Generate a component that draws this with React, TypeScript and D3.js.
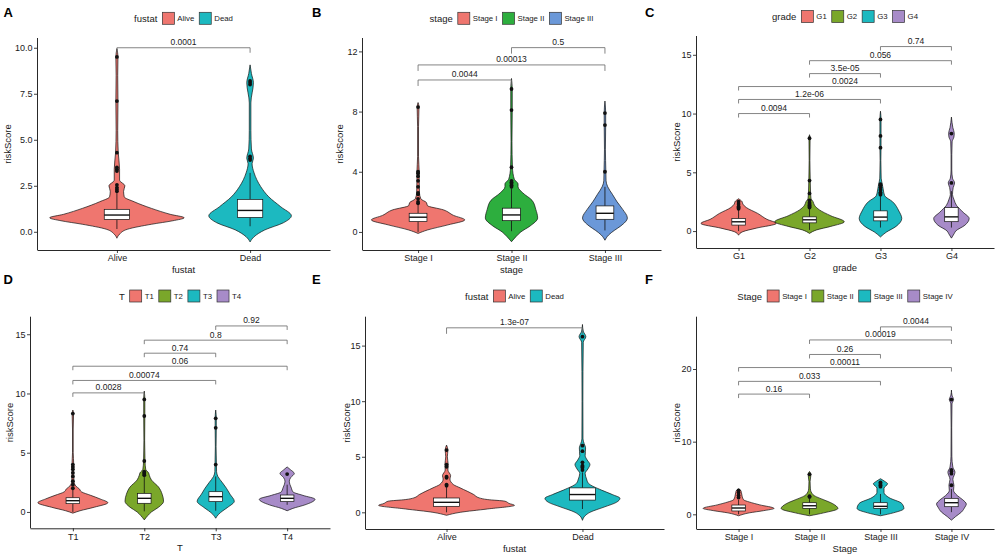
import { useEffect, useRef } from 'react'
import * as d3 from 'd3'

// ---- categories ----
const fustatGroups = ['Alive', 'Dead']
const stageGroups = ['Stage I', 'Stage II', 'Stage III']
const gradeGroups = ['G1', 'G2', 'G3', 'G4']
const tGroups = ['T1', 'T2', 'T3', 'T4']
const stage4Groups = ['Stage I', 'Stage II', 'Stage III', 'Stage IV']

const fustatColors = ['#EF766F', '#1CB9C0']
const stageColors = ['#EF766F', '#2DAE3E', '#6B98D8']
const fourColors = ['#EF766F', '#7AA72A', '#1CB9C0', '#A78BC8']

// ---- violin outlines: [riskScore, half width in category units] ----
const violinsA = [
  [[-0.35, 0], [-0.13, 0.02], [0.14, 0.08], [0.41, 0.26], [0.6, 0.42], [0.76, 0.505], [0.95, 0.4], [1.27, 0.26], [1.63, 0.13], [1.9, 0.055], [2.2, 0.05], [2.5, 0.06], [2.8, 0.02], [3.4, 0.02], [4.3, 0.01], [5.5, 0.006], [7.1, 0.008], [8.5, 0.006], [9.5, 0.008], [9.95, 0]],
  [[-0.55, 0], [-0.27, 0.03], [0.1, 0.11], [0.49, 0.25], [0.87, 0.31], [1.36, 0.23], [1.9, 0.14], [2.45, 0.08], [3.2, 0.03], [3.7, 0.015], [4.0, 0.025], [4.5, 0.01], [5.5, 0.006], [7.0, 0.006], [8.1, 0.025], [8.6, 0.01], [9.07, 0]],
]
const violinsB = [
  [[-0.1, 0], [0.13, 0.1], [0.47, 0.32], [0.8, 0.5], [1.1, 0.38], [1.47, 0.27], [1.75, 0.1], [1.95, 0.09], [2.2, 0.03], [2.6, 0.015], [3.5, 0.012], [4.0, 0.012], [5, 0.005], [7, 0.005], [8.3, 0.01], [8.6, 0]],
  [[-0.65, 0], [-0.3, 0.05], [0, 0.1], [0.4, 0.2], [0.93, 0.28], [1.5, 0.26], [2.1, 0.22], [2.6, 0.12], [3.0, 0.07], [3.2, 0.07], [3.5, 0.03], [4.3, 0.01], [6, 0.005], [8.1, 0.008], [9.5, 0.008], [10.2, 0]],
  [[-0.55, 0], [-0.2, 0.04], [0.1, 0.1], [0.4, 0.17], [0.93, 0.24], [1.5, 0.19], [2.0, 0.13], [2.5, 0.08], [3.0, 0.03], [3.4, 0.012], [4.0, 0.01], [5.5, 0.005], [7.1, 0.008], [7.9, 0.008], [8.7, 0]],
]
const violinsC = [
  [[-0.35, 0], [-0.05, 0.06], [0.25, 0.25], [0.65, 0.53], [1.0, 0.4], [1.5, 0.27], [2.0, 0.11], [2.3, 0.06], [2.5, 0.05], [2.75, 0]],
  [[-0.2, 0], [0.1, 0.1], [0.4, 0.3], [0.79, 0.49], [1.3, 0.3], [1.8, 0.14], [2.2, 0.07], [2.5, 0.05], [2.8, 0.02], [3.2, 0.015], [4.3, 0.01], [6, 0.005], [7.9, 0.008], [8.2, 0]],
  [[-0.5, 0], [-0.1, 0.08], [0.4, 0.22], [1.07, 0.3], [1.7, 0.26], [2.5, 0.17], [3.0, 0.06], [3.5, 0.04], [4.0, 0.025], [4.5, 0.01], [6, 0.005], [7.1, 0.008], [8.1, 0.008], [9.5, 0.008], [10.2, 0]],
  [[-0.6, 0], [-0.2, 0.04], [0, 0.06], [0.5, 0.19], [1.07, 0.25], [1.6, 0.165], [2.2, 0.07], [2.7, 0.035], [3.1, 0.015], [3.7, 0.025], [4.1, 0.045], [4.5, 0.015], [5.2, 0.005], [6.5, 0.005], [7.6, 0.01], [8.0, 0.035], [8.3, 0.04], [8.8, 0.02], [9.7, 0]],
]
const violinsD = [
  [[-0.1, 0], [0.1, 0.1], [0.4, 0.3], [0.78, 0.49], [1.1, 0.38], [1.4, 0.25], [1.7, 0.12], [1.95, 0.09], [2.2, 0.04], [2.6, 0.015], [3.5, 0.012], [4.0, 0.012], [5, 0.005], [7, 0.005], [8.3, 0.01], [8.6, 0]],
  [[-0.67, 0], [-0.3, 0.05], [0, 0.1], [0.4, 0.2], [0.9, 0.27], [1.5, 0.25], [2.1, 0.2], [2.7, 0.1], [3.1, 0.07], [3.3, 0.06], [3.6, 0.02], [4.3, 0.01], [6, 0.005], [8.1, 0.008], [9.5, 0.008], [10.2, 0]],
  [[-0.53, 0], [-0.2, 0.04], [0.1, 0.1], [0.4, 0.17], [0.9, 0.26], [1.5, 0.2], [2.0, 0.15], [2.5, 0.09], [3.0, 0.03], [3.4, 0.012], [4.0, 0.01], [5.5, 0.005], [7.1, 0.008], [7.9, 0.008], [8.6, 0]],
  [[0.1, 0], [0.3, 0.08], [0.6, 0.25], [1.07, 0.39], [1.4, 0.22], [1.7, 0.08], [2.0, 0.06], [2.3, 0.04], [2.6, 0.03], [2.9, 0.05], [3.25, 0.1], [3.55, 0.05], [3.8, 0]],
]
const violinsE = [
  [[-0.27, 0], [0, 0.1], [0.3, 0.3], [0.63, 0.5], [0.8, 0.46], [1.0, 0.43], [1.15, 0.3], [1.3, 0.24], [1.6, 0.2], [2.2, 0.1], [2.5, 0.05], [3.0, 0.025], [3.3, 0.03], [3.8, 0.01], [4.3, 0.012], [5.0, 0.006], [5.6, 0.01], [6.05, 0]],
  [[-0.72, 0], [-0.3, 0.02], [0, 0.055], [0.5, 0.165], [0.9, 0.25], [1.26, 0.276], [1.6, 0.22], [2.0, 0.14], [2.6, 0.045], [3.0, 0.03], [3.5, 0.02], [3.9, 0.04], [4.3, 0.055], [4.7, 0.035], [5.1, 0.02], [5.8, 0.023], [6.2, 0.012], [6.6, 0.004], [10, 0.003], [15.3, 0.006], [15.8, 0.025], [16.3, 0.006], [16.9, 0]],
]
const violinsF = [
  [[-0.2, 0], [0.2, 0.15], [0.5, 0.35], [0.82, 0.5], [1.3, 0.3], [1.7, 0.15], [2.0, 0.07], [2.5, 0.05], [3.0, 0.04], [3.3, 0.03], [3.5, 0]],
  [[-0.2, 0], [0.2, 0.2], [0.8, 0.4], [1.5, 0.32], [2.0, 0.2], [2.4, 0.1], [2.7, 0.05], [3.5, 0.012], [4.5, 0.008], [5.5, 0.02], [5.9, 0]],
  [[-0.2, 0], [0.2, 0.18], [0.8, 0.33], [1.5, 0.3], [2.3, 0.12], [3.0, 0.05], [3.6, 0.05], [4.2, 0.1], [4.6, 0.05], [4.9, 0]],
  [[-0.8, 0], [-0.3, 0.06], [0.3, 0.14], [1.0, 0.19], [1.4, 0.21], [2.0, 0.16], [2.6, 0.08], [3.3, 0.03], [4.0, 0.035], [4.8, 0.02], [5.8, 0.05], [6.5, 0.02], [8, 0.006], [12, 0.004], [15.2, 0.008], [15.8, 0.03], [16.4, 0.008], [17.1, 0]],
]

// ---- box stats: [lower whisker, q1, median, q3, upper whisker] ----
const boxesA = [[0.15, 0.67, 0.91, 1.22, 2.1], [0.3, 0.78, 1.16, 1.76, 3.2]]
const boxesB = [[0.0, 0.69, 0.98, 1.24, 1.85], [0.05, 0.75, 1.13, 1.58, 2.9], [0.1, 0.84, 1.24, 1.73, 3.0]]
const boxesC = [[0.0, 0.51, 0.79, 1.07, 1.8], [0.1, 0.7, 0.96, 1.21, 1.95], [0.3, 0.87, 1.19, 1.72, 3.0], [0.3, 0.8, 1.21, 2.0, 3.4]]
const boxesD = [[0.0, 0.7, 0.95, 1.2, 1.9], [0.05, 0.73, 1.15, 1.57, 3.0], [0.1, 0.87, 1.29, 1.71, 3.0], [0.6, 0.87, 1.15, 1.43, 2.3]]
const boxesE = [[0.0, 0.54, 0.9, 1.29, 2.3], [0.3, 1.1, 1.6, 2.2, 3.6]]
const boxesF = [[0.0, 0.46, 0.87, 1.28, 2.0], [0.0, 0.82, 1.18, 1.6, 2.3], [0.0, 0.82, 1.1, 1.6, 2.8], [0.3, 1.05, 1.6, 2.2, 3.5]]

// ---- outliers ----
const outliersA = [[2.2, 2.3, 2.4, 2.55, 3.3, 3.4, 3.5, 4.3, 7.1, 9.5], [3.9, 4.0, 4.1, 8.0, 8.1, 8.2]]
const outliersB = [[1.9, 2.0, 2.2, 2.5, 2.6, 3.0, 3.4, 3.7, 3.9, 4.0, 8.3], [3.0, 3.1, 3.2, 3.3, 3.4, 4.3, 8.1, 9.5], [4.0, 7.1, 7.9]]
const outliersC = [[1.9, 2.0, 2.1, 2.3, 2.5], [2.0, 2.1, 2.2, 2.3, 2.4, 2.6, 3.2, 4.3, 7.9], [3.1, 3.2, 3.3, 3.5, 3.7, 3.9, 4.0, 7.1, 8.1, 9.5], [4.1, 8.3]]
const outliersD = [[2.0, 2.3, 2.6, 3.0, 3.3, 3.6, 3.8, 4.0, 8.3], [3.1, 3.2, 3.3, 3.4, 4.3, 8.1, 9.5], [4.0, 7.1, 7.9], [3.2]]
const outliersE = [[2.4, 2.5, 3.1, 3.2, 4.1, 4.3, 5.6], [3.8, 4.0, 4.1, 4.2, 4.5, 5.5, 6.0, 15.8]]
const outliersF = [[2.3, 2.6, 3.0, 3.3], [2.4, 2.5, 5.5], [3.8, 4.0, 4.2, 4.4], [4.0, 5.6, 5.9, 6.1, 15.8]]

// ---- pairwise comparisons: [group a, group b, bracket height, p value] ----
const compsA: [number, number, number, string][] = [[0, 1, 10.0, '0.0001']]
const compsB: [number, number, number, string][] = [[0, 1, 10.1, '0.0044'], [0, 2, 11.1, '0.00013'], [1, 2, 12.25, '0.5']]
const compsC: [number, number, number, string][] = [[0, 1, 10.0, '0.0094'], [0, 2, 11.2, '1.2e-06'], [0, 3, 12.3, '0.0024'], [1, 2, 13.4, '3.5e-05'], [1, 3, 14.5, '0.056'], [2, 3, 15.7, '0.74']]
const compsD: [number, number, number, string][] = [[0, 1, 10.05, '0.0028'], [0, 2, 11.1, '0.00074'], [0, 3, 12.3, '0.06'], [1, 2, 13.4, '0.74'], [1, 3, 14.5, '0.8'], [2, 3, 15.7, '0.92']]
const compsE: [number, number, number, string][] = [[0, 1, 16.6, '1.3e-07']]
const compsF: [number, number, number, string][] = [[0, 1, 16.55, '0.16'], [0, 2, 18.3, '0.033'], [0, 3, 20.2, '0.00011'], [1, 2, 22.0, '0.26'], [1, 3, 24.0, '0.00019'], [2, 3, 25.8, '0.0044']]

// ---- axis ticks ----
const ticksA = [0, 2.5, 5, 7.5, 10]
const ticksB = [0, 4, 8, 12]
const ticks15 = [0, 5, 10, 15]
const ticksF = [0, 10, 20]

const FONT = "'Liberation Sans', Arial, Helvetica, sans-serif"

interface Panel {
  letter: string
  lx: number
  ly: number
  cats: string[]
  colors: string[]
  violins: number[][][]
  boxes: number[][]
  outliers: number[][]
  comps: [number, number, number, string][]
  legendTitle: string
  xTitle: string
  ticks: number[]
  fmt: (v: number) => string
  x0: number
  x1: number
  yTop: number
  yBottom: number
  domain: [number, number]
  legendY: number
  yTitleX: number
  tip: number
}

const plain = (v: number) => String(v)

const panels: Panel[] = [
  { letter: 'A', lx: 3.5, ly: 16.7, cats: fustatGroups, colors: fustatColors, violins: violinsA, boxes: boxesA, outliers: outliersA, comps: compsA, legendTitle: 'fustat', xTitle: 'fustat', ticks: ticksA, fmt: d3.format('.1f'), x0: 37, x1: 330, yTop: 38, yBottom: 250, domain: [-0.99, 10.53], legendY: 18.3, yTitleX: 7.5, tip: 5 },
  { letter: 'B', lx: 312, ly: 16.7, cats: stageGroups, colors: stageColors, violins: violinsB, boxes: boxesB, outliers: outliersB, comps: compsB, legendTitle: 'stage', xTitle: 'stage', ticks: ticksB, fmt: plain, x0: 362, x1: 661, yTop: 38, yBottom: 250, domain: [-1.2, 12.89], legendY: 18.3, yTitleX: 339, tip: 6 },
  { letter: 'C', lx: 645, ly: 16.7, cats: gradeGroups, colors: fourColors, violins: violinsC, boxes: boxesC, outliers: outliersC, comps: compsC, legendTitle: 'grade', xTitle: 'grade', ticks: ticks15, fmt: plain, x0: 696, x1: 994, yTop: 36, yBottom: 248, domain: [-1.44, 16.6], legendY: 16.5, yTitleX: 676, tip: 4 },
  { letter: 'D', lx: 3.5, ly: 283.5, cats: tGroups, colors: fourColors, violins: violinsD, boxes: boxesD, outliers: outliersD, comps: compsD, legendTitle: 'T', xTitle: 'T', ticks: ticks15, fmt: plain, x0: 30, x1: 330, yTop: 316.7, yBottom: 528.3, domain: [-1.38, 16.48], legendY: 296, yTitleX: 9, tip: 4 },
  { letter: 'E', lx: 312, ly: 283.5, cats: fustatGroups, colors: fustatColors, violins: violinsE, boxes: boxesE, outliers: outliersE, comps: compsE, legendTitle: 'fustat', xTitle: 'fustat', ticks: ticks15, fmt: plain, x0: 365, x1: 664, yTop: 316.7, yBottom: 529, domain: [-1.5, 17.6], legendY: 296, yTitleX: 346, tip: 6 },
  { letter: 'F', lx: 645, ly: 283.5, cats: stage4Groups, colors: fourColors, violins: violinsF, boxes: boxesF, outliers: outliersF, comps: compsF, legendTitle: 'Stage', xTitle: 'Stage', ticks: ticksF, fmt: plain, x0: 696, x1: 994, yTop: 316.7, yBottom: 529, domain: [-2.02, 27.2], legendY: 296, yTitleX: 676, tip: 4 },
]

function drawPanel(svg: d3.Selection<SVGSVGElement, unknown, null, undefined>, p: Panel) {
  const x = d3.scalePoint<string>().domain(p.cats).range([p.x0, p.x1]).padding(0.6)
  const step = x.step()
  const y = d3.scaleLinear().domain(p.domain).range([p.yBottom, p.yTop])
  const g = svg.append('g')

  // violins
  p.cats.forEach((c, i) => {
    const cx = x(c)!
    const area = d3
      .area<number[]>()
      .y(d => y(d[0]))
      .x0(d => cx - d[1] * step)
      .x1(d => cx + d[1] * step)
      .curve(d3.curveMonotoneY)
    g.append('path')
      .attr('d', area(p.violins[i]))
      .attr('fill', p.colors[i])
      .attr('stroke', '#111')
      .attr('stroke-width', 0.7)
  })

  // boxplots
  const bw = 0.19 * step
  p.cats.forEach((c, i) => {
    const cx = x(c)!
    const [lo, q1, med, q3, hi] = p.boxes[i]
    g.append('line').attr('x1', cx).attr('x2', cx).attr('y1', y(lo)).attr('y2', y(q1))
      .attr('stroke', '#111').attr('stroke-width', 0.8)
    g.append('line').attr('x1', cx).attr('x2', cx).attr('y1', y(q3)).attr('y2', y(hi))
      .attr('stroke', '#111').attr('stroke-width', 0.8)
    g.append('rect')
      .attr('x', cx - bw / 2).attr('width', bw)
      .attr('y', y(q3)).attr('height', y(q1) - y(q3))
      .attr('fill', '#fff').attr('stroke', '#111').attr('stroke-width', 0.7)
    g.append('line').attr('x1', cx - bw / 2).attr('x2', cx + bw / 2).attr('y1', y(med)).attr('y2', y(med))
      .attr('stroke', '#111').attr('stroke-width', 1.4)
    g.selectAll(null)
      .data(p.outliers[i])
      .enter()
      .append('circle')
      .attr('cx', cx)
      .attr('cy', d => y(d))
      .attr('r', 1.9)
      .attr('fill', '#111')
  })

  // comparison brackets
  p.comps.forEach(([a, b, h, label]) => {
    const xa = x(p.cats[a])!
    const xb = x(p.cats[b])!
    const yy = y(h)
    g.append('path')
      .attr('d', `M${xa},${yy + p.tip}V${yy}H${xb}V${yy + p.tip}`)
      .attr('fill', 'none')
      .attr('stroke', '#666')
      .attr('stroke-width', 0.8)
    g.append('text')
      .attr('x', (xa + xb) / 2)
      .attr('y', yy - 2.5)
      .attr('text-anchor', 'middle')
      .style('font-size', '8.5px')
      .attr('fill', '#222')
      .text(label)
  })

  // axes
  const yAxis = g.append('g')
    .attr('transform', `translate(${p.x0},0)`)
    .call(d3.axisLeft(y).tickValues(p.ticks).tickFormat(d => p.fmt(d as number)).tickSize(3).tickSizeOuter(0).tickPadding(1.5))
  const xAxis = g.append('g')
    .attr('transform', `translate(0,${p.yBottom})`)
    .call(d3.axisBottom(x).tickSize(3).tickSizeOuter(0).tickPadding(2.1))
  ;[yAxis, xAxis].forEach(ax => {
    ax.selectAll('.domain').attr('stroke', '#111').attr('stroke-width', 0.9)
    ax.selectAll('.tick line').attr('stroke', '#111').attr('stroke-width', 0.8)
    ax.selectAll('text').style('font-size', '9px').attr('fill', '#1a1a1a').style('font-family', FONT)
  })
  yAxis.select('.domain').attr('d', `M0.5,${p.yBottom}V${p.yTop}`)

  g.append('text')
    .attr('x', (p.x0 + p.x1) / 2)
    .attr('y', p.yBottom + 23)
    .attr('text-anchor', 'middle')
    .style('font-size', '9.5px')
    .attr('fill', '#1a1a1a')
    .text(p.xTitle)
  g.append('text')
    .attr('transform', `translate(${p.yTitleX},${(p.yTop + p.yBottom) / 2}) rotate(-90)`)
    .attr('text-anchor', 'middle')
    .attr('dominant-baseline', 'central')
    .style('font-size', '9.5px')
    .attr('fill', '#1a1a1a')
    .text('riskScore')

  // panel letter
  svg.append('text')
    .attr('x', p.lx)
    .attr('y', p.ly)
    .style('font-size', '13px')
    .style('font-weight', 'bold')
    .attr('fill', '#000')
    .text(p.letter)

  // legend
  const lg = svg.append('g')
  const title = lg.append('text')
    .attr('x', 0)
    .attr('y', 0)
    .attr('dominant-baseline', 'central')
    .style('font-size', '9.5px')
    .attr('fill', '#1a1a1a')
    .text(p.legendTitle)
  let cursor = (title.node() as SVGTextElement).getComputedTextLength() + 5
  p.cats.forEach((c, i) => {
    lg.append('rect')
      .attr('x', cursor).attr('y', -6)
      .attr('width', 12).attr('height', 12)
      .attr('fill', p.colors[i])
      .attr('stroke', '#333').attr('stroke-width', 0.7)
    cursor += 15
    const t = lg.append('text')
      .attr('x', cursor)
      .attr('y', 0)
      .attr('dominant-baseline', 'central')
      .style('font-size', '7.8px')
      .attr('fill', '#1a1a1a')
      .text(c)
    cursor += (t.node() as SVGTextElement).getComputedTextLength() + (i < p.cats.length - 1 ? 5 : 0)
  })
  const cx = (p.x0 + p.x1) / 2
  lg.attr('transform', `translate(${cx - cursor / 2},${p.legendY})`)
}

export default function App() {
  const svgRef = useRef<SVGSVGElement>(null)

  useEffect(() => {
    if (!svgRef.current) return
    document.body.style.margin = '0'
    const svg = d3.select(svgRef.current)
    svg.selectAll('*').remove()
    panels.forEach(p => drawPanel(svg, p))
  }, [])

  return (
    <svg
      ref={svgRef}
      width={998}
      height={556}
      style={{ display: 'block', background: '#fff', fontFamily: FONT }}
    />
  )
}
